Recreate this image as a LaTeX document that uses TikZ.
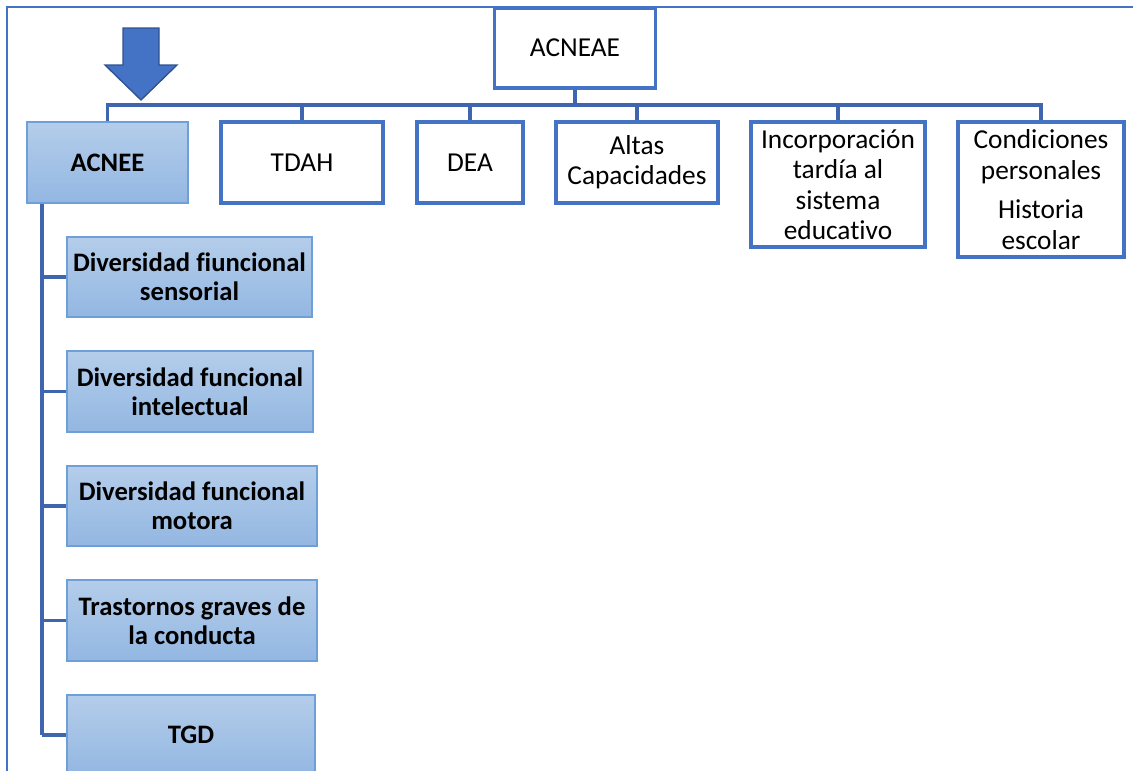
\documentclass[tikz,border=0pt]{standalone}
\usepackage{fontspec}
\setmainfont{Carlito}[Ligatures={NoCommon,NoRare,NoDiscretionary}]
\definecolor{boxblue}{HTML}{4472C4}
\definecolor{linkblue}{HTML}{3F65AE}
\definecolor{arrowedge}{HTML}{2F528F}
\definecolor{subedge}{HTML}{6E9FD9}
\definecolor{subtop}{HTML}{B4CDEA}
\definecolor{subbottom}{HTML}{93B7E2}
\begin{document}
\begin{tikzpicture}[x=0.75pt,y=-0.75pt,
    font=\fontsize{20.5}{22.8}\selectfont,
    plainbox/.style={draw=boxblue,line width=2.3pt,fill=white,align=center,inner sep=0pt},
    subbox/.style={draw=subedge,line width=1pt,top color=subtop,bottom color=subbottom,
      align=center,inner sep=0pt,font=\fontsize{20}{21.8}\selectfont\bfseries},
    link/.style={draw=linkblue,line width=2.3pt}]
  \clip (0,0) rectangle (1133,771);
  % frame
  \draw[boxblue,line width=0.9pt] (7,771) -- (7,7) -- (1133,7);

  % top level
  \node[plainbox,minimum width=120.75pt,minimum height=60pt] (acneae) at (575,48) {ACNEAE};
  \coordinate (bus) at (0,105);
  \coordinate (spine) at (42,0);

  \node[subbox,minimum width=120.75pt,minimum height=60.75pt] (acnee) at (107.5,162.5) {ACNEE};
  \node[plainbox,minimum width=121.5pt,minimum height=60.75pt] (tdah) at (302,162.5) {TDAH};
  \node[plainbox,minimum width=79.5pt,minimum height=60.75pt] (dea) at (470,162.5) {DEA};
  \node[plainbox,minimum width=121.5pt,minimum height=60.75pt] (altas) at (637,162.5) {Altas\\Capacidades};
  \node[plainbox,minimum width=130.5pt,minimum height=93.75pt] (incorp) at (838,184.5)
    {Incorporación\\tardía al\\sistema\\educat\kern0pt ivo};
  \node[plainbox,minimum width=124.5pt,minimum height=101.25pt] (cond) at (1041,189.5)
    {Condiciones\\personales\\[7pt]Historia\\escolar};

  % ACNEE branch
  \node[subbox,minimum width=183.75pt,minimum height=60pt] (sensorial) at (189.5,277)
    {Diversidad f\kern0pt iuncional\\sensorial};
  \node[subbox,minimum width=184.5pt,minimum height=60.75pt] (intelectual) at (190,391.5)
    {Diversidad funcional\\intelectual};
  \node[subbox,minimum width=187.5pt,minimum height=60pt] (motora) at (192,506)
    {Diversidad funcional\\motora};
  \node[subbox,minimum width=187.5pt,minimum height=60.75pt] (conducta) at (192,620.5)
    {Trastornos graves de\\la conducta};
  \node[subbox,minimum width=186pt,minimum height=60pt] (tgd) at (191,735) {TGD};

  % connectors
  \draw[link] (acneae.south) -- (acneae.south |- bus);
  \draw[link] (acnee.north) -- (acnee.north |- bus) -| (cond.north);
  \foreach \n in {tdah,dea,altas,incorp}
    \draw[link] (\n.north) -- (\n.north |- bus);
  \draw[link] (acnee.south -| spine) -- (spine |- tgd.west);
  \foreach \n in {sensorial,intelectual,motora,conducta,tgd}
    \draw[link] (spine |- \n.west) -- (\n.west);

  % big arrow
  \filldraw[fill=boxblue,draw=arrowedge,line width=1pt]
    (123,28) -- (159,28) -- (159,65) -- (177,65) -- (141,100) -- (105,65) -- (123,65) -- cycle;
\end{tikzpicture}
\end{document}
